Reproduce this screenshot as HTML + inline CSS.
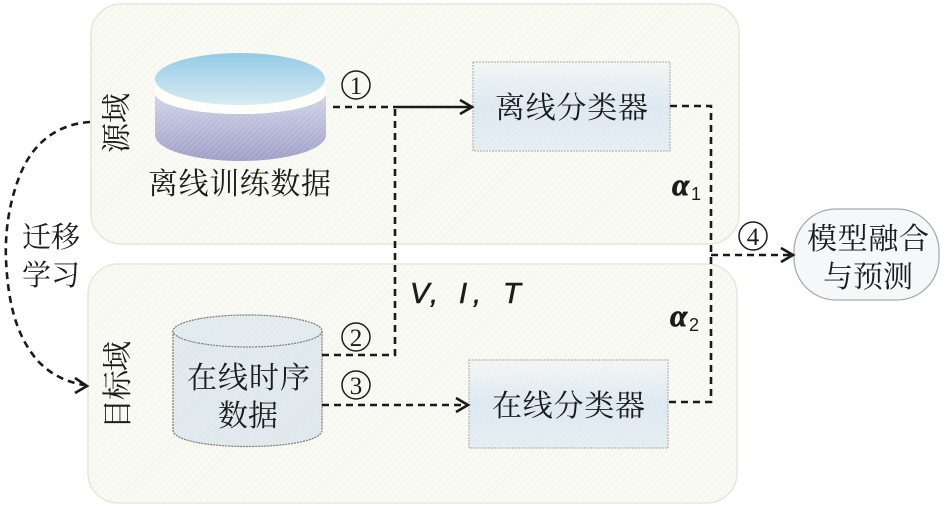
<!DOCTYPE html>
<html><head><meta charset="utf-8">
<style>
html,body{margin:0;padding:0;background:#fff;width:945px;height:508px;overflow:hidden}
svg{display:block}
text{font-family:"Noto Serif CJK SC","Liberation Serif",serif;fill:#1c1c1c}
.lat{font-family:"Liberation Sans",sans-serif;font-style:italic;fill:#1c1c1c;stroke:#1c1c1c;stroke-width:.6}
.greek{font-family:"Liberation Serif",serif;font-style:italic;font-weight:bold;fill:#1c1c1c;stroke:#1c1c1c;stroke-width:.7}
.sub{font-family:"Liberation Sans",sans-serif;fill:#1c1c1c}
.num{font-family:"Liberation Serif",serif;font-size:25px}
.cn{font-size:30px}
.l{fill:none;stroke:#1a1a1a;stroke-width:2.6;stroke-dasharray:7 5}
.ar{fill:none;stroke:#1a1a1a;stroke-width:2.6}
</style></head><body>
<svg width="945" height="508" viewBox="0 0 945 508" xmlns="http://www.w3.org/2000/svg">
<defs>
<pattern id="hatch" width="5" height="5" patternUnits="userSpaceOnUse" patternTransform="rotate(-45)">
<rect width="5" height="5" fill="#f9faf4"/>
<rect width="5" height="1.2" fill="#f4f5ec"/>
</pattern>
<pattern id="blueh" width="4" height="4" patternUnits="userSpaceOnUse" patternTransform="rotate(-45)">
<rect width="4" height="1.2" fill="#ffffff" opacity=".14"/>
</pattern>
<linearGradient id="top" x1="0" y1="0" x2="0" y2="1"><stop offset="0" stop-color="#93cbe6"/><stop offset="1" stop-color="#d8ebf2"/></linearGradient>
<linearGradient id="body" x1="0" y1="0" x2="0" y2="1"><stop offset="0" stop-color="#d2d6e8"/><stop offset="1" stop-color="#9f9ec7"/></linearGradient>
<linearGradient id="box" x1="0" y1="0" x2="0" y2="1"><stop offset="0" stop-color="#f3f5f3"/><stop offset=".5" stop-color="#dce8f0"/><stop offset="1" stop-color="#e4edf1"/></linearGradient>
</defs>

<rect x="91" y="4" width="648" height="240" rx="30" fill="url(#hatch)" stroke="#e2e5d6" stroke-width="1.3"/>
<rect x="88" y="264" width="649" height="239" rx="30" fill="url(#hatch)" stroke="#e2e5d6" stroke-width="1.3"/>

<!-- offline cylinder -->
<path d="M155 93 A85.500 21 0 0 0 326 93 L326 135 A85.500 26 0 0 1 155 135 Z" fill="url(#body)"/>
<path d="M155 93 A85.500 21 0 0 0 326 93 L326 135 A85.500 26 0 0 1 155 135 Z" fill="url(#blueh)"/>
<path d="M155 79 A85 26 0 0 0 325 79 L326 93 A85.500 21 0 0 1 155 93 Z" fill="#fdfdf9"/>
<ellipse cx="240" cy="79" rx="85" ry="26" fill="url(#top)"/>
<text x="148" y="194" class="cn" textLength="183" lengthAdjust="spacing">离线训练数据</text>

<!-- online cylinder -->
<path d="M173 331 L173 430 C173 452 322 452 322 430 L322 331" fill="#dfe8ed" stroke="#77796f" stroke-width="1.2" stroke-dasharray="2 1"/>
<ellipse cx="247.500" cy="331" rx="74.500" ry="16" fill="#e1eaee" stroke="#77796f" stroke-width="1.2" stroke-dasharray="2 1"/>
<path d="M173 331 L173 430 C173 452 322 452 322 430 L322 331 A74.500 16 0 0 0 173 331Z" fill="url(#blueh)"/>
<text x="187" y="388" class="cn" textLength="123" lengthAdjust="spacing">在线时序</text>
<text x="218" y="426" class="cn" textLength="60" lengthAdjust="spacing">数据</text>

<!-- classifiers -->
<rect x="473" y="62" width="197" height="89" fill="url(#box)" stroke="#a6a8a1" stroke-width="1" stroke-dasharray="2 1"/>
<rect x="473" y="62" width="197" height="89" fill="url(#blueh)"/>
<text x="495" y="118" class="cn" textLength="153" lengthAdjust="spacing">离线分类器</text>
<rect x="469" y="360" width="199" height="88" fill="url(#box)" stroke="#a6a8a1" stroke-width="1" stroke-dasharray="2 1"/>
<rect x="469" y="360" width="199" height="88" fill="url(#blueh)"/>
<text x="492" y="416" class="cn" textLength="153" lengthAdjust="spacing">在线分类器</text>

<!-- result -->
<rect x="794" y="209" width="145" height="91" rx="42" fill="#f5f7f8" stroke="#a9abaa" stroke-width="1.3"/>
<text x="807" y="249" class="cn" textLength="122" lengthAdjust="spacing">模型融合</text>
<text x="823" y="287" class="cn" textLength="90" lengthAdjust="spacing">与预测</text>

<!-- vertical labels -->
<text transform="translate(127 153) rotate(-90)" class="cn" textLength="60" lengthAdjust="spacing">源域</text>
<text transform="translate(128 429) rotate(-90)" class="cn" textLength="88" lengthAdjust="spacing">目标域</text>

<text x="22" y="247" style="font-size:29px" textLength="58" lengthAdjust="spacing">迁移</text>
<text x="22" y="285" style="font-size:29px" textLength="58" lengthAdjust="spacing">学习</text>

<!-- connectors -->
<path class="l" d="M333 107 H395"/>
<path d="M395 107 H471" fill="none" stroke="#1a1a1a" stroke-width="2.600"/>
<path class="ar" d="M460 100 L472 107 L460 114"/>
<path class="l" d="M395 109 V355 H322"/>
<path class="l" d="M322 405 H467"/>
<path class="ar" d="M456 398 L468 405 L456 412"/>
<path class="l" d="M670 106 H711 V402 H668"/>
<path class="l" d="M711 255 H792"/>
<path class="ar" d="M781 248 L793 255 L781 262"/>
<path class="l" d="M90 122 C60 124 34 140 20 175 C8 205 5 235 6 260 C8 300 15 335 38 361 C50 374 66 382 84 385"/>
<path class="ar" d="M75 378 L87 386 L75 393"/>

<!-- numbers -->
<g fill="none" stroke="#1c1c1c" stroke-width="1.500">
<circle cx="356" cy="85" r="14"/><circle cx="356" cy="337" r="14"/><circle cx="356" cy="385" r="14"/><circle cx="753" cy="236" r="14"/>
</g>
<g text-anchor="middle">
<text x="356" y="94" class="num">1</text><text x="356" y="346" class="num">2</text><text x="356" y="394" class="num">3</text><text x="753" y="245" class="num">4</text>
</g>

<text x="410" y="303" class="lat" style="font-size:29px">V</text>
<text x="430" y="303" class="lat" style="font-size:29px">,</text>
<text x="459" y="303" class="lat" style="font-size:29px">I</text>
<text x="473" y="303" class="lat" style="font-size:29px">,</text>
<text x="503" y="303" class="lat" style="font-size:29px">T</text>

<text x="672" y="195" class="greek" style="font-size:31px">α</text>
<text x="691" y="200" class="sub" style="font-size:18px">1</text>
<text x="670" y="326" class="greek" style="font-size:31px">α</text>
<text x="689" y="331" class="sub" style="font-size:18px">2</text>
</svg>
</body></html>
